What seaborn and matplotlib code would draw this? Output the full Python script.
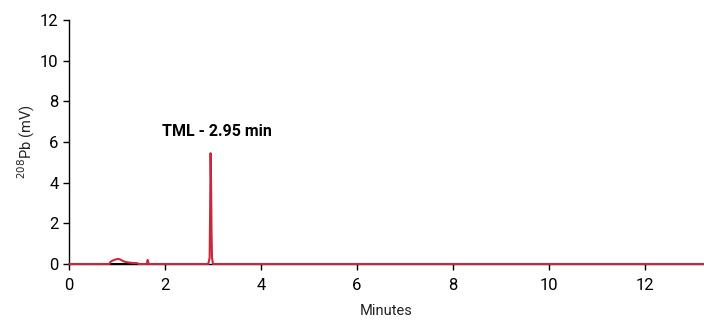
import matplotlib
matplotlib.use("Agg")
import matplotlib.pyplot as plt
import seaborn as sns
import pandas as pd

# chromatogram trace (minutes, mV)
minutes = [0.0, 0.84, 0.87, 0.92, 0.97, 1.02, 1.07, 1.12, 1.18, 1.25, 1.32, 1.42, 1.45,
           1.62, 1.64, 1.66, 1.68, 2.90, 2.93, 2.94, 2.95, 2.96, 2.97, 2.98, 3.00, 13.3]
signal = [0.0, 0.0, 0.12, 0.18, 0.22, 0.25, 0.22, 0.15, 0.10, 0.07, 0.05, 0.04, 0.0,
          0.0, 0.2, 0.0, 0.0, 0.0, 0.3, 2.5, 5.45, 4.0, 1.5, 0.3, 0.0, 0.0]
base_minutes = [0.85, 1.45]
base_signal = [0.0, 0.0]

peak_label = "TML - 2.95 min"
xticks = [0, 2, 4, 6, 8, 10, 12]
yticks = [0, 2, 4, 6, 8, 10, 12]

sns.set_style("ticks")
plt.rcParams['font.family'] = ['Roboto', 'DejaVu Sans']
plt.rcParams['text.color'] = 'black'
plt.rcParams['axes.labelcolor'] = '#222222'
plt.rcParams['xtick.color'] = 'black'
plt.rcParams['ytick.color'] = 'black'

df = pd.DataFrame({"Minutes": minutes, "Pb": signal})
base = pd.DataFrame({"Minutes": base_minutes, "Pb": base_signal})

fig = plt.figure(figsize=(7.04, 3.22), dpi=100)
ax = fig.add_axes([69 / 704, 1 - 264 / 322, 1 - 69 / 704, (264 - 20) / 322])

sns.lineplot(data=base, x="Minutes", y="Pb", color="black", linewidth=1.5, ax=ax,
             clip_on=False, zorder=5)
sns.lineplot(data=df, x="Minutes", y="Pb", color="#c8283c", linewidth=1.5, ax=ax,
             clip_on=False, zorder=6)

ax.set_xlim(0, 13.23)
ax.set_ylim(0, 12)
ax.set_xticks(xticks)
ax.set_yticks(yticks)
ax.tick_params(labelsize=12, length=4, width=1, direction="out")
ax.tick_params(axis="x", pad=6)
ax.set_xlabel("Minutes", fontsize=10.5, labelpad=8)
ax.set_ylabel(r"$^{208}$Pb (mV)", fontsize=10.5, labelpad=2)
for sp in ["top", "right"]:
    ax.spines[sp].set_visible(False)
for sp in ["left", "bottom"]:
    ax.spines[sp].set_linewidth(1)
    ax.spines[sp].set_color("black")

ax.text(3.08, 6.5, peak_label, ha="center", va="center", fontsize=11.5, fontweight="bold")

fig.savefig("out.png", dpi=100)
